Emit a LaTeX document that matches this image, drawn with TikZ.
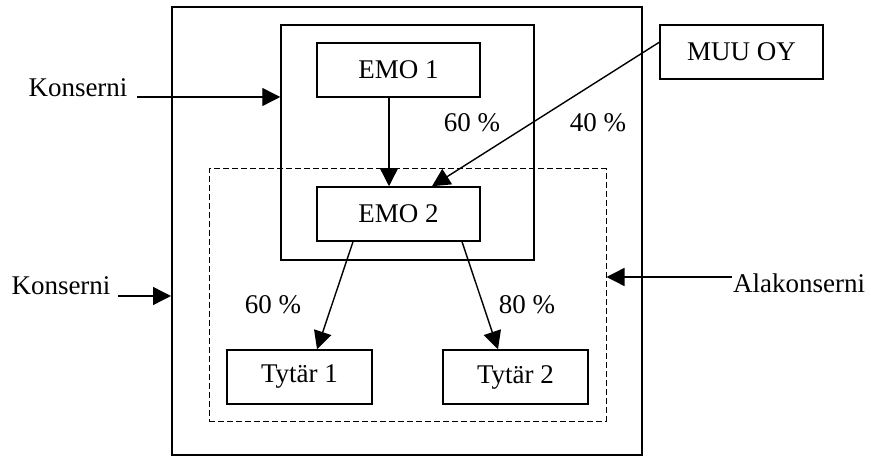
\documentclass[tikz,border=0pt]{standalone}
\usepackage{fontspec}
\setmainfont{Liberation Serif}
\usetikzlibrary{arrows.meta}

\tikzset{
  box/.style={draw, line width=0.75pt, minimum width=81.5pt, minimum height=27pt, inner sep=0pt},
  frame/.style={draw, inner sep=0pt},
  arr/.style={-{Triangle[length=9pt,width=9pt]}, line width=0.7pt},
}

\begin{document}
\begin{tikzpicture}[x=0.5pt, y=-0.5pt, font=\fontsize{13.5}{16}\selectfont]
    \useasboundingbox (0,0) rectangle (871,458);
    % frames
    \node[frame, line width=1pt, minimum width=235pt, minimum height=224pt] (outer) at (407,231) {};
    \node[frame, line width=0.75pt, minimum width=126.5pt, minimum height=117.5pt] (inner) at (407.5,142.5) {};
    \node[frame, line width=0.5pt, dash pattern=on 3pt off 1.5pt, minimum width=198.5pt, minimum height=126pt] (sub) at (407.5,295) {};
    % companies
    \node[box] (emo1) at (398.5, 70) {EMO 1};
    \node[box] (emo2) at (398.5,214) {EMO 2};
    \node[box] (muu) at (741.5, 52) {MUU OY};
    \node[box, minimum width=72.5pt] (tytar1) at (299.5,377) {Tytär 1};
    \node[box, minimum width=72.5pt] (tytar2) at (515.5,377) {Tytär 2};
    % ownership
    \draw[arr] ([xshift=-4.75pt]emo1.south) -- ([xshift=-4.75pt]emo2.north);
    \draw[arr] ([yshift=-9pt]muu.north west) -- ([xshift=16.75pt]emo2.north);
    \draw[arr] ([xshift=-22.75pt]emo2.south) -- ([xshift=8.75pt]tytar1.north);
    \draw[arr] ([xshift=31.75pt]emo2.south) -- ([xshift=-8.75pt]tytar2.north);
    % shares
    \node (p1) at (472,123) {60 \%};
    \node (p2) at (598,123) {40 \%};
    \node (p3) at (273,305) {60 \%};
    \node (p4) at (527,305) {80 \%};
    % group labels
    \node (konsA) at (78,88) {Konserni};
    \node (konsB) at (61,286) {Konserni};
    \node (ala) at (799,283) {Alakonserni};
    \coordinate (k1) at (137,97);
    \coordinate (k2) at (118,296);
    \coordinate (k3) at (732,277);
    \draw[arr] (k1) -- (k1 -| inner.west);
    \draw[arr] (k2) -- (k2 -| outer.west);
    \draw[arr] (k3) -- (k3 -| sub.east);
\end{tikzpicture}
\end{document}
